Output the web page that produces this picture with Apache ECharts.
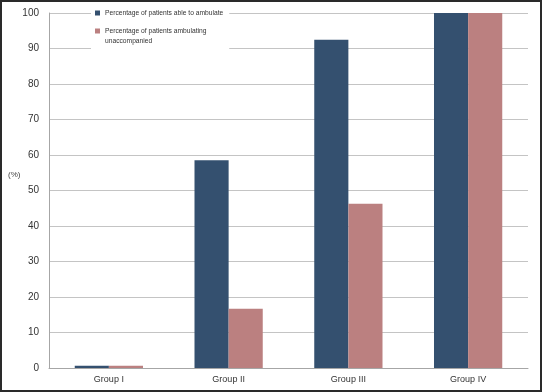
<!DOCTYPE html>
<html>
<head>
<meta charset="utf-8">
<script src="https://cdn.jsdelivr.net/npm/echarts@6/dist/echarts.min.js"></script>
<style>
  html, body { margin: 0; padding: 0; background: #fff; }
  #frame { width: 542px; height: 392px; box-sizing: border-box; border: 2px solid #2a2a2a; }
  #chart { width: 538px; height: 388px; }
</style>
</head>
<body>
<div id="frame"><div id="chart"></div></div>
<script>
// data
const groups = ['Group I', 'Group II', 'Group III', 'Group IV'];
const ableToAmbulate = [0.6, 58.5, 92.5, 100];
const ambulatingAlone = [0.6, 16.7, 46.3, 100];
const seriesNames = ['Percentage of patients able to ambulate', 'Percentage of patients ambulating unaccompanied'];

const chart = echarts.init(document.getElementById('chart'));

const option = {
  animation: false,
  backgroundColor: '#fff',
  textStyle: { fontFamily: 'Liberation Sans' },
  legend: {
    orient: 'vertical',
    left: 89,
    top: 3,
    backgroundColor: '#fff',
    padding: [3, 6, 5, 4],
    itemWidth: 5,
    itemHeight: 5,
    itemGap: -2,
    icon: 'rect',
    data: seriesNames,
    // blank first line keeps the swatch level with the first text line
    formatter: function (name) {
      return name === seriesNames[1] ? '\nPercentage of patients ambulating\nunaccompanied' : name;
    },
    textStyle: { fontSize: 6.7, color: '#333', lineHeight: 10 }
  },
  grid: { left: 47, right: 12, top: 11, bottom: 22, containLabel: false },
  graphic: [{
    type: 'text',
    left: 6,
    top: 169,
    style: { text: '(%)', fontSize: 8, fill: '#444', fontFamily: 'Liberation Sans' }
  }],
  xAxis: {
    type: 'category',
    data: groups,
    axisLine: { lineStyle: { color: '#a6a6a6' } },
    axisTick: { length: 3, lineStyle: { color: '#a6a6a6' } },
    axisLabel: { fontSize: 9, color: '#333', margin: 7 }
  },
  yAxis: {
    type: 'value',
    min: 0,
    max: 100,
    interval: 10,
    axisLine: { show: true, lineStyle: { color: '#a6a6a6' } },
    axisTick: { show: false },
    axisLabel: { fontSize: 10, color: '#333', margin: 10 },
    splitLine: { lineStyle: { color: '#c4c4c4' } }
  },
  series: [
    {
      name: seriesNames[0],
      type: 'bar',
      data: ableToAmbulate,
      barGap: '0%',
      barCategoryGap: '43%',
      itemStyle: { color: '#34506f' }
    },
    {
      name: seriesNames[1],
      type: 'bar',
      data: ambulatingAlone,
      itemStyle: { color: '#bb8080' }
    }
  ]
};

chart.setOption(option);
</script>
</body>
</html>
